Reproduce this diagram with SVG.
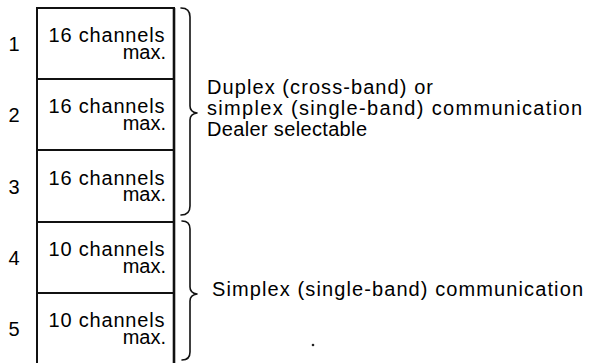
<svg xmlns="http://www.w3.org/2000/svg" width="589" height="363" viewBox="0 0 589 363">
<style>
text{font-family:"Liberation Sans",Arial,Helvetica,sans-serif;font-size:20px;fill:#000}
.num{text-anchor:middle}
.max{text-anchor:end}
.cell{fill:#fff;stroke:#111;stroke-width:2}
.edge{stroke:#111;stroke-width:2.6}
.brace{fill:none;stroke:#111;stroke-width:1.6;stroke-linejoin:round;stroke-linecap:round}
</style>
<rect width="589" height="363" fill="#fff"/>
<g id="row1">
<rect class="cell" x="37" y="8" width="137" height="71"/>
<text class="num" x="14" y="51">1</text>
<text><tspan x="48.5" y="42" textLength="116" lengthAdjust="spacing">16 channels</tspan><tspan class="max" x="166" y="58.5">max.</tspan></text>
</g>
<g id="row2">
<rect class="cell" x="37" y="79" width="137" height="71"/>
<text class="num" x="14" y="122">2</text>
<text><tspan x="48.5" y="113" textLength="116" lengthAdjust="spacing">16 channels</tspan><tspan class="max" x="166" y="129.5">max.</tspan></text>
</g>
<g id="row3">
<rect class="cell" x="37" y="150" width="137" height="72"/>
<text class="num" x="14" y="193.5">3</text>
<text><tspan x="48.5" y="184.5" textLength="116" lengthAdjust="spacing">16 channels</tspan><tspan class="max" x="166" y="201">max.</tspan></text>
</g>
<g id="row4">
<rect class="cell" x="37" y="222" width="137" height="71"/>
<text class="num" x="14" y="265">4</text>
<text><tspan x="48.5" y="256" textLength="116" lengthAdjust="spacing">10 channels</tspan><tspan class="max" x="166" y="272.5">max.</tspan></text>
</g>
<g id="row5">
<rect class="cell" x="37" y="293" width="137" height="72"/>
<text class="num" x="14" y="336">5</text>
<text><tspan x="48.5" y="327" textLength="116" lengthAdjust="spacing">10 channels</tspan><tspan class="max" x="166" y="343.5">max.</tspan></text>
</g>
<line class="edge" x1="174" y1="8" x2="174" y2="365"/>
<g id="connectors">
<path class="brace" d="M181,8 Q190,8 190,17 L190,106 Q190,112 197,113 Q190,114 190,120 L190,206 Q190,215 181,215"/>
<path class="brace" d="M182,221 Q190,221 190,229 L190,287 Q190,293 197,294 Q190,295 190,301 L190,352 Q190,360 182,360"/>
</g>
<g id="label-duplex">
<text><tspan x="207" y="94" textLength="226" lengthAdjust="spacing">Duplex (cross-band) or</tspan><tspan x="207" y="115" textLength="375" lengthAdjust="spacing">simplex (single-band) communication</tspan><tspan x="207" y="135.5" textLength="160" lengthAdjust="spacing">Dealer selectable</tspan></text>
</g>
<g id="label-simplex">
<text x="212" y="295.5" textLength="371" lengthAdjust="spacing">Simplex (single-band) communication</text>
</g>
<circle cx="313" cy="345" r="1.3" fill="#222"/>
</svg>
